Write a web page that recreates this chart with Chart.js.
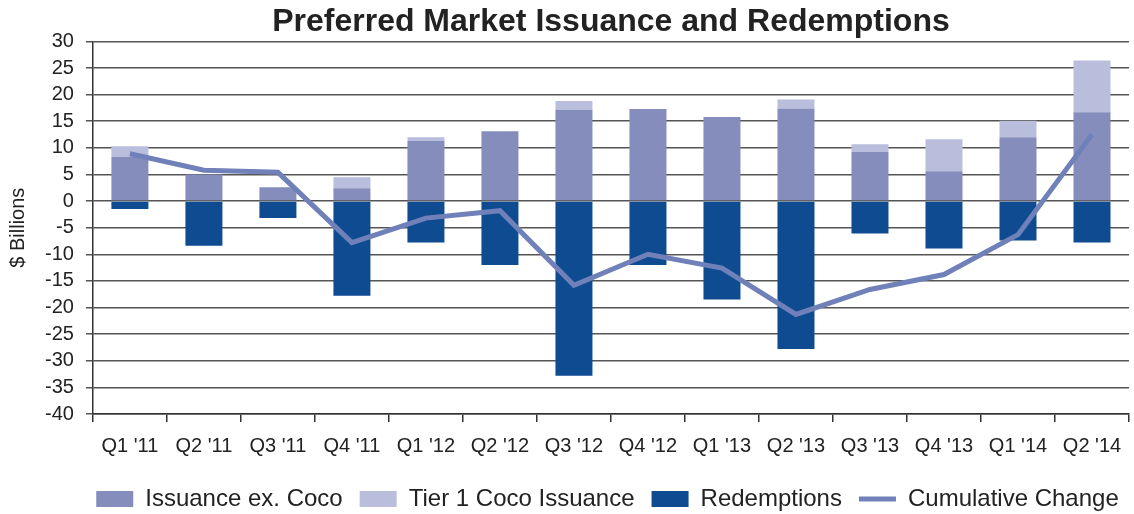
<!DOCTYPE html>
<html>
<head>
<meta charset="utf-8">
<script src="https://cdn.jsdelivr.net/npm/chart.js@4/dist/chart.umd.min.js"></script>
<style>
  html, body { margin: 0; padding: 0; background: #fff; }
  #wrap { width: 1134px; height: 514px; }
</style>
</head>
<body>
<div id="wrap"><canvas id="issuanceStats"></canvas></div>
<script>
const quarters = ["Q1 '11", "Q2 '11", "Q3 '11", "Q4 '11", "Q1 '12", "Q2 '12", "Q3 '12",
  "Q4 '12", "Q1 '13", "Q2 '13", "Q3 '13", "Q4 '13", "Q1 '14", "Q2 '14"];
const issuanceExCoco = [8.3, 5.0, 2.6, 2.4, 11.3, 13.1, 17.1, 17.3, 15.8, 17.4, 9.2, 5.6, 12.0, 16.7];
const tier1Coco = [2.0, 0, 0, 2.1, 0.7, 0, 1.7, 0, 0, 1.7, 1.5, 6.0, 3.1, 9.7];
const redemptions = [-1.5, -8.4, -3.2, -17.8, -7.8, -12.0, -32.8, -12.0, -18.5, -27.8, -6.1, -8.9, -7.4, -7.8];
const cumulative = [8.9, 5.8, 5.4, -7.8, -3.2, -1.8, -15.8, -10.0, -12.6, -21.3, -16.6, -13.8, -6.3, 12.5];

const font = '"Liberation Sans", Arial, Helvetica, sans-serif';
Chart.defaults.font.family = font;
Chart.defaults.color = '#222';

// legend sits a bit right of centre in the original, under the plot area
const legendShift = {
  id: 'legendShift',
  afterLayout(chart) {
    chart.legend.left += 42;
    chart.legend.right += 42;
  }
};

function issuanceChart() {
  const ctx = document.getElementById('issuanceStats');
  const styles = ['rect', 'rect', 'rect', 'line'];

  new Chart(ctx, {
    type: 'bar',
    data: {
      labels: quarters,
      datasets: [{
        label: 'Issuance ex. Coco',
        data: issuanceExCoco,
        backgroundColor: '#848dbb',
        stack: 'bars',
        order: 1
      }, {
        label: 'Tier 1 Coco Issuance',
        data: tier1Coco,
        backgroundColor: '#b9bedc',
        stack: 'bars',
        order: 1
      }, {
        label: 'Redemptions',
        data: redemptions,
        backgroundColor: '#0f4b91',
        stack: 'bars',
        order: 1
      }, {
        type: 'line',
        label: 'Cumulative Change',
        data: cumulative,
        borderColor: '#7080b9',
        backgroundColor: '#7080b9',
        borderWidth: 5,
        pointRadius: 0,
        tension: 0,
        stack: 'line',
        order: 0
      }]
    },
    plugins: [legendShift],
    options: {
      responsive: true,
      maintainAspectRatio: false,
      animation: false,
      datasets: {
        bar: { barPercentage: 0.5, categoryPercentage: 1 }
      },
      layout: { padding: { left: 2, right: 5, top: 0, bottom: -7 } },
      plugins: {
        title: {
          display: true,
          text: 'Preferred Market Issuance and Redemptions',
          fullSize: false,
          color: '#222',
          font: { size: 32, weight: 'bold' },
          padding: { top: 3, bottom: 0 }
        },
        legend: {
          position: 'bottom',
          labels: {
            usePointStyle: true,
            pointStyleWidth: 37,
            boxHeight: 16,
            padding: 17,
            color: '#222',
            font: { size: 24 },
            sort: (a, b) => a.datasetIndex - b.datasetIndex,
            generateLabels: (chart) => {
              const items = Chart.defaults.plugins.legend.labels.generateLabels(chart);
              items.forEach((it) => { it.pointStyle = styles[it.datasetIndex]; });
              return items;
            }
          }
        },
        tooltip: { enabled: false }
      },
      scales: {
        x: {
          stacked: true,
          grid: { drawOnChartArea: false, drawTicks: true, tickLength: 8, color: '#333', lineWidth: 1.5 },
          border: { color: '#333', width: 1.5 },
          ticks: { font: { size: 20 }, color: '#222', padding: 12, maxRotation: 0 }
        },
        y: {
          stacked: true,
          min: -40,
          max: 30,
          grid: { color: '#555', lineWidth: 1.5, tickLength: 7 },
          border: { color: '#333', width: 1.5 },
          ticks: { stepSize: 5, autoSkip: false, font: { size: 20 }, color: '#222', padding: 12 },
          title: { display: true, text: '$ Billions', font: { size: 20 }, color: '#222', padding: { top: 4, bottom: 3 } }
        }
      }
    }
  });
}

issuanceChart();
</script>
</body>
</html>
